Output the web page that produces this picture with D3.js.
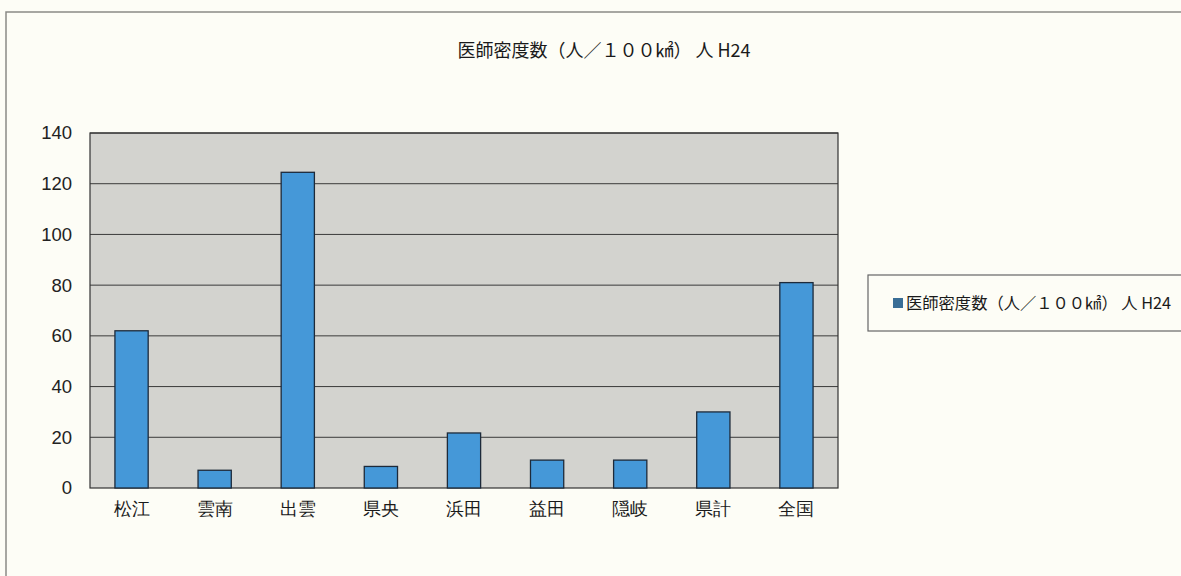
<!DOCTYPE html>
<html><head><meta charset="utf-8">
<script src="https://cdn.jsdelivr.net/npm/d3@7"></script>
<style>
html,body{margin:0;padding:0;background:#fdfdf6;}
svg{display:block;font-family:"Noto Sans CJK JP","Noto Sans",sans-serif;}
</style></head>
<body><svg id="c" width="1181" height="576"></svg>
<script>
const categories = ["松江","雲南","出雲","県央","浜田","益田","隠岐","県計","全国"];
const values = [62, 7, 124.5, 8.5, 21.7, 11, 11, 30, 81];
const yTicks = [0,20,40,60,80,100,120,140];
const seriesName = "医師密度数（人／１００㎢） 人 H24";

(function(){
const svg = d3.select("#c");
svg.append("path").attr("d","M6,576 V12 H1181").attr("fill","none").attr("stroke","#8a8a86").attr("stroke-width",1.5);

const pL=90, pR=838, pT=133, pB=488;
const x = d3.scaleBand().domain(categories).range([pL,pR]).paddingInner(0.6).paddingOuter(0.3);
const y = d3.scaleLinear().domain([0,140]).range([pB,pT]);

svg.append("rect").attr("x",pL).attr("y",pT).attr("width",pR-pL).attr("height",pB-pT)
  .attr("fill","#d3d3cf");
svg.append("g").selectAll("line").data(yTicks.filter(d=>d>0)).join("line")
  .attr("x1",pL).attr("x2",pR).attr("y1",d=>y(d)).attr("y2",d=>y(d))
  .attr("stroke","#3a3a3a").attr("stroke-width",1);
svg.append("rect").attr("x",pL).attr("y",pT).attr("width",pR-pL).attr("height",pB-pT)
  .attr("fill","none").attr("stroke","#333").attr("stroke-width",1.2);

svg.append("g").selectAll("rect").data(values).join("rect")
  .attr("x",(d,i)=>x(categories[i])).attr("width",x.bandwidth())
  .attr("y",d=>y(d)).attr("height",d=>pB-y(d))
  .attr("fill","#4598d8").attr("stroke","#1d2a3a").attr("stroke-width",1.3);

const yAxis = svg.append("g").attr("transform",`translate(${pL},0)`)
  .call(d3.axisLeft(y).tickValues(yTicks).tickSize(0).tickPadding(18));
yAxis.select(".domain").remove();
yAxis.selectAll("text").attr("font-size",18.5).attr("fill","#222").attr("font-family","Liberation Sans, Arial, sans-serif");

const xAxis = svg.append("g").attr("transform",`translate(0,${pB})`)
  .call(d3.axisBottom(x).tickSize(0).tickPadding(14));
xAxis.select(".domain").remove();
xAxis.selectAll("text").attr("font-size",18).attr("fill","#1a1a1a").attr("font-weight",500);

svg.append("text").attr("x",604).attr("y",57).attr("text-anchor","middle")
  .attr("font-size",18).attr("fill","#1a1a1a").text(seriesName);

svg.append("rect").attr("x",868).attr("y",275).attr("width",320).attr("height",56)
  .attr("fill","#fdfdf6").attr("stroke","#666").attr("stroke-width",1.2);
svg.append("rect").attr("x",893).attr("y",298).attr("width",10).attr("height",10).attr("fill","#3a6e96");
svg.append("text").attr("x",906).attr("y",309).attr("font-size",16.3).attr("fill","#1a1a1a").text(seriesName);
})();
</script></body></html>
